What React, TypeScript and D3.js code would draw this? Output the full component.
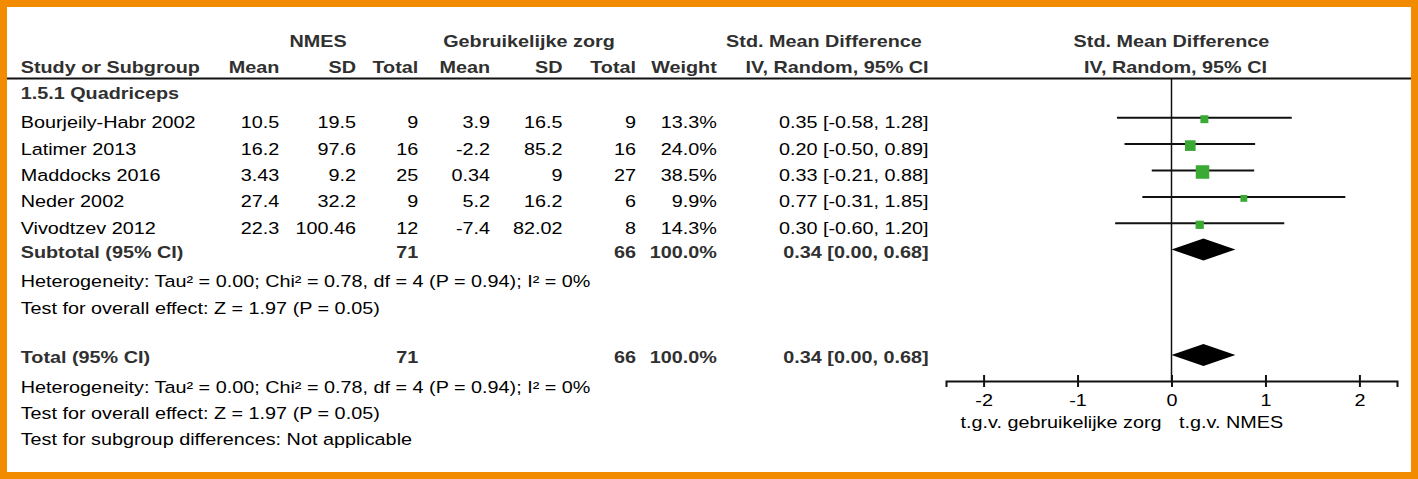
import { useEffect, useRef } from 'react';
import * as d3 from 'd3';

// study rows
const studies = ['Bourjeily-Habr 2002', 'Latimer 2013', 'Maddocks 2016', 'Neder 2002', 'Vivodtzev 2012'];
const nmesMean = [10.5, 16.2, 3.43, 27.4, 22.3];
const nmesSD = [19.5, 97.6, 9.2, 32.2, 100.46];
const nmesN = [9, 16, 25, 9, 12];
const ctrlMean = [3.9, -2.2, 0.34, 5.2, -7.4];
const ctrlSD = [16.5, 85.2, 9, 16.2, 82.02];
const ctrlN = [9, 16, 27, 6, 8];
const weights = [13.3, 24.0, 38.5, 9.9, 14.3];
const smd = [0.35, 0.2, 0.33, 0.77, 0.3];
const ciLow = [-0.58, -0.5, -0.21, -0.31, -0.6];
const ciHigh = [1.28, 0.89, 0.88, 1.85, 1.2];

// pooled results
const pooledNmesN = 71;
const pooledCtrlN = 66;
const pooledWeight = 100.0;
const pooledSmd = 0.34;
const pooledLow = 0.0;
const pooledHigh = 0.68;

const xTicks = [-2, -1, 0, 1, 2];
const heterogeneityText = 'Heterogeneity: Tau² = 0.00; Chi² = 0.78, df = 4 (P = 0.94); I² = 0%';
const overallText = 'Test for overall effect: Z = 1.97 (P = 0.05)';
const subgroupText = 'Test for subgroup differences: Not applicable';

const W = 1418;
const H = 479;
const SX = 1.2; // source image is stretched horizontally
const FONT = '"Liberation Sans", Arial, sans-serif';
const FS = 16.5;

export default function App() {
  const svgRef = useRef<SVGSVGElement>(null);

  useEffect(() => {
    if (!svgRef.current) return;
    const svg = d3.select(svgRef.current);
    svg.selectAll('*').remove();

    svg.append('rect').attr('width', W).attr('height', H).attr('fill', '#fff');

    // orange frame
    svg
      .append('rect')
      .attr('x', 3.5)
      .attr('y', 3.5)
      .attr('width', W - 7)
      .attr('height', H - 7)
      .attr('fill', 'none')
      .attr('stroke', '#f38b00')
      .attr('stroke-width', 7);

    const text = (
      s: string,
      x: number,
      y: number,
      anchor: 'start' | 'middle' | 'end' = 'start',
      bold = false
    ) =>
      svg
        .append('text')
        .attr('transform', `translate(${x},${y}) scale(${SX},1)`)
        .attr('text-anchor', anchor)
        .attr('font-family', FONT)
        .attr('font-size', FS)
        .attr('font-weight', bold ? 'bold' : 'normal')
        .attr('fill', bold ? '#303030' : '#000')
        .text(s);

    // column right edges
    const col = {
      study: 20.7,
      mean: 279.3,
      sd: 356,
      total: 418.3,
      cMean: 490,
      cSd: 562.5,
      cTotal: 636,
      weight: 716.8,
      ci: 928.6,
    };

    // headers
    text('NMES', 318, 46.7, 'middle', true);
    text('Gebruikelijke zorg', 529, 46.7, 'middle', true);
    text('Std. Mean Difference', 824, 46.7, 'middle', true);
    text('Study or Subgroup', col.study, 72.7, 'start', true);
    text('Mean', col.mean, 72.7, 'end', true);
    text('SD', col.sd, 72.7, 'end', true);
    text('Total', col.total, 72.7, 'end', true);
    text('Mean', col.cMean, 72.7, 'end', true);
    text('SD', col.cSd, 72.7, 'end', true);
    text('Total', col.cTotal, 72.7, 'end', true);
    text('Weight', col.weight, 72.7, 'end', true);
    text('IV, Random, 95% CI', col.ci, 72.7, 'end', true);

    svg
      .append('line')
      .attr('x1', 7)
      .attr('x2', W - 7)
      .attr('y1', 78.5)
      .attr('y2', 78.5)
      .attr('stroke', '#111')
      .attr('stroke-width', 2);

    text('1.5.1 Quadriceps', col.study, 99.3, 'start', true);

    // scales
    const x = d3.scaleLinear().domain([-2.4, 2.4]).range([946, 1397]);
    const y = d3.scaleLinear().domain([0, studies.length - 1]).range([117.7, 223.3]);
    const side = d3.scaleSqrt().domain([0, 38.5]).range([0, 13.5]);
    const f2 = d3.format('.2f');
    const ciLabel = (m: number, lo: number, hi: number) =>
      `${f2(m)} [${f2(lo)}, ${f2(hi)}]`.replace(/−/g, '-');

    text('Std. Mean Difference', x(0), 46.7, 'middle', true);
    text('IV, Random, 95% CI', x(0) + 4, 72.7, 'middle', true);

    // study rows text
    studies.forEach((s, i) => {
      const by = y(i) + 10.5;
      text(s, col.study, by);
      text(String(nmesMean[i]), col.mean, by, 'end');
      text(String(nmesSD[i]), col.sd, by, 'end');
      text(String(nmesN[i]), col.total, by, 'end');
      text(String(ctrlMean[i]), col.cMean, by, 'end');
      text(String(ctrlSD[i]), col.cSd, by, 'end');
      text(String(ctrlN[i]), col.cTotal, by, 'end');
      text(`${weights[i].toFixed(1)}%`, col.weight, by, 'end');
      text(ciLabel(smd[i], ciLow[i], ciHigh[i]), col.ci, by, 'end');
    });

    // subtotal + total rows
    const pooledRows = [
      { label: 'Subtotal (95% CI)', base: 257.5, cy: 249.5 },
      { label: 'Total (95% CI)', base: 362.7, cy: 355 },
    ];
    pooledRows.forEach((r) => {
      text(r.label, col.study, r.base, 'start', true);
      text(String(pooledNmesN), col.total, r.base, 'end', true);
      text(String(pooledCtrlN), col.cTotal, r.base, 'end', true);
      text(`${pooledWeight.toFixed(1)}%`, col.weight, r.base, 'end', true);
      text(ciLabel(pooledSmd, pooledLow, pooledHigh), col.ci, r.base, 'end', true);
    });

    text(heterogeneityText, col.study, 287.3);
    text(overallText, col.study, 314);
    text(heterogeneityText, col.study, 392.7);
    text(overallText, col.study, 419.3);
    text(subgroupText, col.study, 445);

    const axisY = 381;

    // zero line
    svg
      .append('line')
      .attr('x1', x(0))
      .attr('x2', x(0))
      .attr('y1', 79)
      .attr('y2', axisY)
      .attr('stroke', '#111')
      .attr('stroke-width', 1.5);

    // CI whiskers
    svg
      .selectAll('.ci')
      .data(studies)
      .enter()
      .append('line')
      .attr('x1', (_, i) => x(ciLow[i]))
      .attr('x2', (_, i) => x(ciHigh[i]))
      .attr('y1', (_, i) => y(i))
      .attr('y2', (_, i) => y(i))
      .attr('stroke', '#111')
      .attr('stroke-width', 2);

    // weighted squares
    svg
      .selectAll('.sq')
      .data(studies)
      .enter()
      .append('rect')
      .attr('x', (_, i) => x(smd[i]) - side(weights[i]) / 2)
      .attr('y', (_, i) => y(i) + 1.5 - side(weights[i]) / 2)
      .attr('width', (_, i) => side(weights[i]))
      .attr('height', (_, i) => side(weights[i]))
      .attr('fill', '#3aaa35');

    // diamonds
    pooledRows.forEach((r) => {
      const pts: [number, number][] = [
        [x(pooledLow), r.cy],
        [x(pooledSmd), r.cy - 11],
        [x(pooledHigh), r.cy],
        [x(pooledSmd), r.cy + 11],
      ];
      svg
        .append('path')
        .attr('d', d3.line()(pts) + 'Z')
        .attr('fill', '#000');
    });

    // axis
    const axis = svg
      .append('g')
      .attr('transform', `translate(0,${axisY})`)
      .call(
        d3
          .axisBottom(x)
          .tickValues(xTicks)
          .tickSizeOuter(0)
          .tickSize(6)
          .tickFormat((d) => String(d))
      );
    axis.select('.domain').attr('stroke', '#111').attr('stroke-width', 2);
    axis
      .selectAll('.tick line')
      .attr('y1', -6)
      .attr('y2', 6)
      .attr('stroke', '#111')
      .attr('stroke-width', 2);
    axis
      .selectAll('.tick text')
      .attr('y', 25)
      .attr('dy', null)
      .attr('transform', `scale(${SX},1)`)
      .attr('font-family', FONT)
      .attr('font-size', FS)
      .attr('fill', '#000');

    text('t.g.v. gebruikelijke zorg', x(0) - 10, 428, 'end');
    text('t.g.v. NMES', x(0) + 7.6, 428, 'start');
  }, []);

  return (
    <svg
      ref={svgRef}
      width={W}
      height={H}
      style={{ position: 'absolute', left: 0, top: 0, display: 'block' }}
    />
  );
}
